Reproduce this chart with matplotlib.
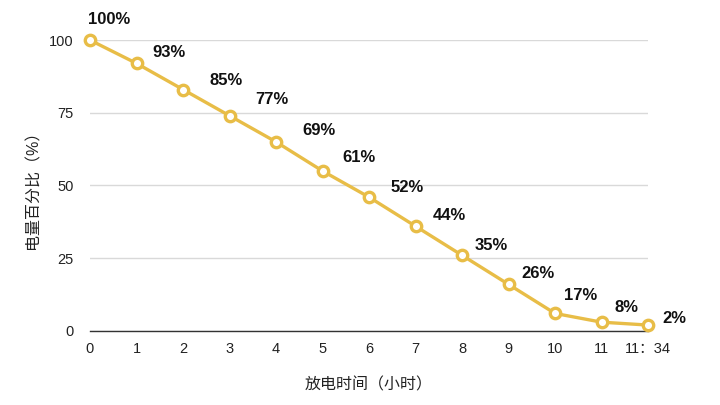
import matplotlib.pyplot as plt

plt.rcParams['font.family'] = ['Liberation Sans', 'Noto Sans CJK SC', 'DejaVu Sans']

# data
hours = ["0", "1", "2", "3", "4", "5", "6", "7", "8", "9", "10", "11", "11：34"]
battery = [100, 92, 83, 74, 65, 55, 46, 36, 26, 16, 6, 3, 2]
labels = ["100%", "93%", "85%", "77%", "69%", "61%", "52%", "44%", "35%",
          "26%", "17%", "8%", "2%"]

# label offsets in pixels from each point (left edge, vertical centre)
offsets = [(-2, 21), (16, 11), (26, 9), (26, 16), (26, 11), (20, 13), (22, 10),
           (17, 11), (13, 10), (13, 11), (9, 18), (13, 15), (14, 7)]

yellow = "#E8BD47"

fig = plt.figure(figsize=(7.2, 4.05), dpi=100)
ax = fig.add_axes([0.125, 0.183, 0.775, 0.718])

x = list(range(len(hours)))
ax.plot(x, battery, color=yellow, lw=2.4, marker="o", ms=7.5,
        mfc="white", mec=yellow, mew=2.4, clip_on=False, zorder=3)

for xi, yi, lab, (dx, dy) in zip(x, battery, labels, offsets):
    ax.annotate(lab, (xi, yi), xytext=(dx, dy), textcoords="offset pixels",
                ha="left", va="center", fontsize=12, fontweight="bold",
                color="#111111")

ax.set_xlim(0, len(hours) - 1)
ax.set_ylim(0, 100)
ax.set_xticks(x)
ax.set_xticklabels(hours)
ax.set_yticks([0, 25, 50, 75, 100])
ax.tick_params(length=0, labelsize=10.5, colors="#222222")
ax.tick_params(axis="y", pad=12)
ax.tick_params(axis="x", pad=8)

ax.grid(axis="y", color="#d9d9d9", lw=1)
ax.set_axisbelow(True)
for s in ["top", "right", "left"]:
    ax.spines[s].set_visible(False)
ax.spines["bottom"].set_color("#333333")
ax.spines["bottom"].set_linewidth(1)

ax.set_ylabel("电量百分比（%）", fontsize=11.5, color="#222222", labelpad=6)
ax.set_xlabel("放电时间（小时）", fontsize=11.5, color="#222222", labelpad=15)

plt.savefig("out.png", dpi=100)
